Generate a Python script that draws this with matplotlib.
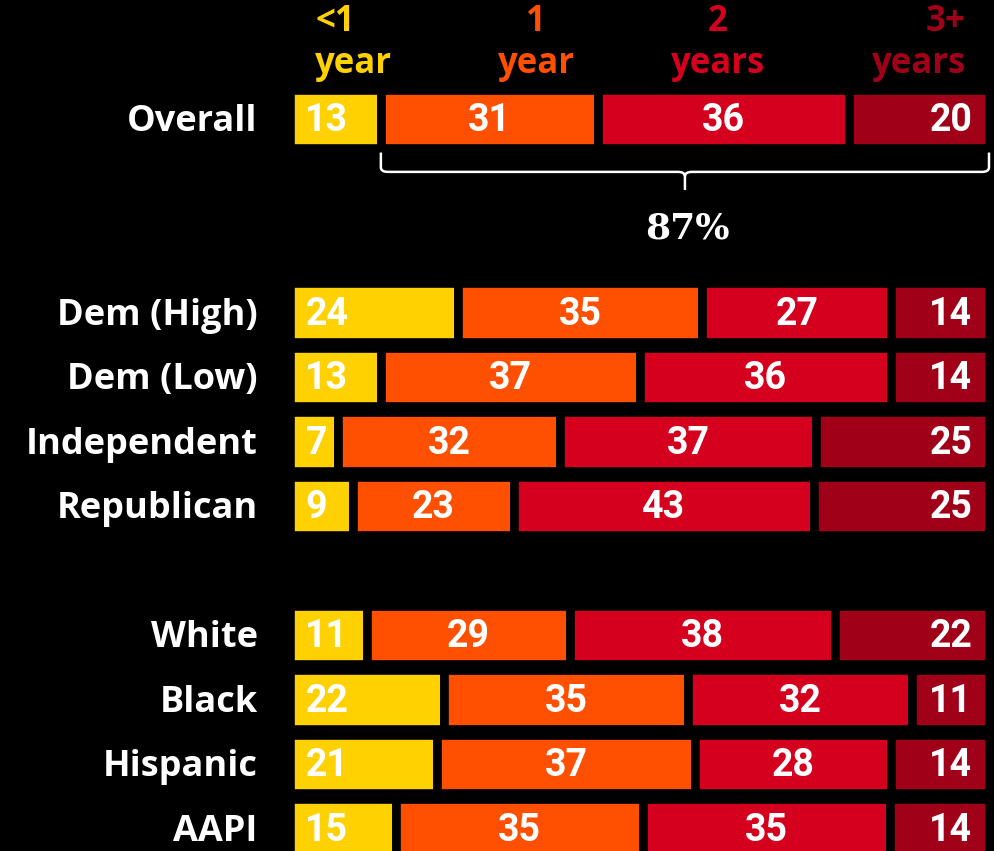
import matplotlib
matplotlib.use("Agg")
import matplotlib.pyplot as plt
from matplotlib.path import Path
from matplotlib.patches import PathPatch

# Share of respondents by expected time horizon
categories = ["Overall", "Dem (High)", "Dem (Low)", "Independent", "Republican",
              "White", "Black", "Hispanic", "AAPI"]
row_pos = [0, 3, 4, 5, 6, 8, 9, 10, 11]
less_than_1 = [13, 24, 13, 7, 9, 11, 22, 21, 15]
one_year = [31, 35, 37, 32, 23, 29, 35, 37, 35]
two_years = [36, 27, 36, 37, 43, 38, 32, 28, 35]
three_plus = [20, 14, 14, 25, 25, 22, 11, 14, 14]

series = [less_than_1, one_year, two_years, three_plus]
header_top = ["<1", "1", "2", "3+"]
header_bottom = ["year", "year", "years", "years"]
colors = ["#FFD100", "#FF4F00", "#D5001D", "#A10019"]

LABEL_FONT = "Open Sans"
NUM_FONT = "Roboto"

W, H = 994, 851
fig = plt.figure(figsize=(W / 100, H / 100), dpi=100, facecolor="black")
ax = fig.add_axes([0, 0, 1, 1])
ax.set_facecolor("black")

px_per_unit_x = 6.99
x0_px = 290
px_per_row = 64.5
y0_px = 119
ax.set_xlim(-x0_px / px_per_unit_x, (W - x0_px) / px_per_unit_x)
ax.set_ylim((H - y0_px) / px_per_row, -y0_px / px_per_row)
ax.axis("off")

# each row is scaled so its segments fill the full width (rounding totals vary)
row_totals = [sum(vals) for vals in zip(*series)]

lefts = [0.0] * len(categories)
for s_idx, (vals, col) in enumerate(zip(series, colors)):
    widths = [v / t * 100 for v, t in zip(vals, row_totals)]
    ax.barh(row_pos, widths, left=lefts, height=0.905, color=col,
            edgecolor="black", linewidth=6.2)
    for v, w, l, y in zip(vals, widths, lefts, row_pos):
        if s_idx == 0:
            x, ha = l + 2.2, "left"
        elif s_idx == len(series) - 1:
            x, ha = l + w - 2.4, "right"
        else:
            x, ha = l + w / 2, "center"
        ax.text(x, y + 0.03, str(v), ha=ha, va="center", color="white",
                fontsize=27, fontweight="bold", family=NUM_FONT)
    lefts = [l + w for l, w in zip(lefts, widths)]

# row labels
for cat, y in zip(categories, row_pos):
    ax.text(-4.6, y + 0.05, cat, ha="right", va="center", color="white",
            fontsize=26, fontweight="bold", family=LABEL_FONT)

# column headers
header_x = [3.6, 35.2, 61.2, 96.7]
header_ha = ["left", "center", "center", "right"]
for top, bot, col, hx, ha in zip(header_top, header_bottom, colors, header_x, header_ha):
    ax.text(hx, -1.50, top, ha=ha, va="center", color=col,
            fontsize=25, fontweight="bold", family=LABEL_FONT)
    ax.text(hx, -0.85, bot, ha=ha, va="center", color=col,
            fontsize=25, fontweight="bold", family=LABEL_FONT)

# brace spanning everything beyond the first segment on the Overall row
b_start = less_than_1[0]
b_end = 100
b_mid = (b_start + b_end) / 2
share = b_end - b_start
y_top, y_line, y_tip = 0.52, 0.82, 1.10
r_x, r_y = 1.0, 0.07
verts = [
    (b_start, y_top), (b_start, y_line - r_y),
    (b_start, y_line), (b_start + r_x, y_line),
    (b_mid - r_x, y_line),
    (b_mid, y_line), (b_mid, y_line + r_y),
    (b_mid, y_tip),
    (b_mid, y_line + r_y),
    (b_mid, y_line), (b_mid + r_x, y_line),
    (b_end - r_x, y_line),
    (b_end, y_line), (b_end, y_line - r_y),
    (b_end, y_top),
]
codes = [Path.MOVETO, Path.LINETO,
         Path.CURVE3, Path.CURVE3,
         Path.LINETO,
         Path.CURVE3, Path.CURVE3,
         Path.LINETO,
         Path.MOVETO,
         Path.CURVE3, Path.CURVE3,
         Path.LINETO,
         Path.CURVE3, Path.CURVE3,
         Path.LINETO]
ax.add_patch(PathPatch(Path(verts, codes), facecolor="none", edgecolor="white",
                       linewidth=1.8, capstyle="butt"))
ax.text(b_mid + 0.4, 1.70, f"{share}%", ha="center", va="center", color="white",
        fontsize=26, fontweight="bold", family="DejaVu Serif")

fig.savefig("out.png", dpi=100, facecolor="black")
